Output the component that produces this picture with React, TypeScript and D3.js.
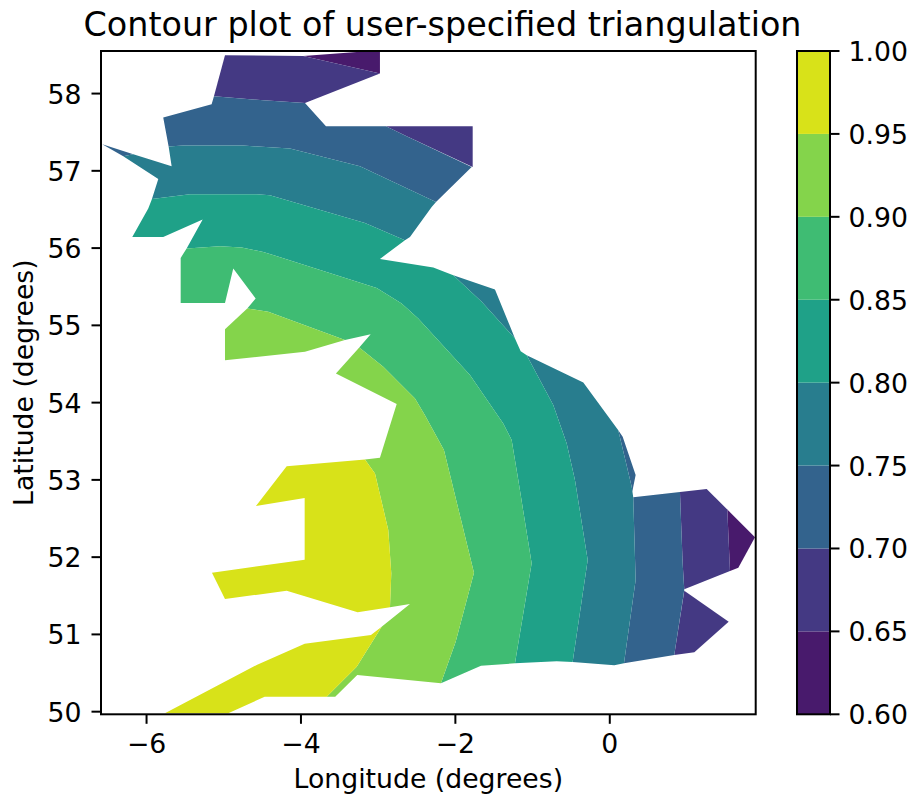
import React from "react";
import * as d3 from "d3";

type Pt = [number, number];

const levels = [0.6, 0.65, 0.7, 0.75, 0.8, 0.85, 0.9, 0.95, 1.0];
const bandColors = ["#481a6c", "#443983", "#33638d", "#287d8e", "#1fa188", "#3fbc73", "#84d44b", "#d8e219"];
const lonTicks = [-6, -4, -2, 0];
const latTicks = [50, 51, 52, 53, 54, 55, 56, 57, 58];
const lonDomain: Pt = [-6.59, 1.89];
const latDomain: Pt = [49.966, 58.551];

// [band index, outline as lon/lat]
const bandNorthTip: Pt[] = [[-3.970, 58.486], [-3.236, 58.541], [-2.977, 58.541], [-2.977, 58.259]];
const bandEastTip: Pt[] = [[1.522, 52.618], [1.881, 52.256], [1.665, 51.863], [1.557, 51.820]];

const band65North: Pt[] = [[-4.984, 58.495], [-3.970, 58.486], [-2.977, 58.259], [-3.948, 57.878], [-4.488, 57.913], [-5.127, 57.965]];
const band65NorthEast: Pt[] = [[-2.899, 57.577], [-1.776, 57.577], [-1.776, 57.050], [-2.631, 57.448]];
const band65East: Pt[] = [[0.909, 52.842], [1.255, 52.881], [1.522, 52.618], [1.557, 51.820], [0.965, 51.583], [0.944, 51.920]];
const band65SouthEast: Pt[] = [[0.965, 51.565], [1.540, 51.164], [1.095, 50.768], [0.835, 50.733]];

const band70North: Pt[] = [[-5.784, 57.690], [-5.157, 57.862], [-5.127, 57.965], [-4.488, 57.913], [-3.948, 57.878], [-3.676, 57.577], [-2.899, 57.577], [-2.631, 57.448], [-1.789, 57.050], [-2.251, 56.598], [-3.236, 57.060], [-4.142, 57.288], [-4.747, 57.327], [-5.525, 57.327], [-5.714, 57.314]];
const band70Tip: Pt[] = [[-6.574, 57.344], [-6.172, 57.215], [-6.302, 57.189]];
const band70East: Pt[] = [[0.110, 53.644], [0.167, 53.558], [0.335, 53.062], [0.291, 52.846], [0.284, 52.911]];
const band70SouthEast: Pt[] = [[0.304, 52.774], [0.909, 52.842], [0.944, 51.920], [0.965, 51.574], [0.835, 50.733], [0.184, 50.626], [0.335, 51.704]];

const band75North: Pt[] = [[-5.714, 57.314], [-5.525, 57.327], [-4.747, 57.327], [-4.142, 57.288], [-3.236, 57.060], [-2.251, 56.598], [-2.307, 56.533], [-2.588, 56.145], [-2.653, 56.102], [-3.171, 56.326], [-4.402, 56.684], [-4.574, 56.697], [-5.438, 56.697], [-5.930, 56.636], [-5.848, 56.895], [-6.302, 57.189], [-6.172, 57.215], [-5.675, 57.060]];
const band75NorthEast: Pt[] = [[-2.027, 55.649], [-1.487, 55.464], [-1.228, 54.831], [-1.659, 55.304]];
const band75East: Pt[] = [[-1.076, 54.614], [-0.343, 54.261], [0.110, 53.644], [0.284, 52.911], [0.304, 52.774], [0.335, 51.704], [0.184, 50.626], [0.058, 50.600], [-0.481, 50.643], [-0.286, 51.962], [-0.451, 52.997], [-0.558, 53.472], [-0.732, 53.968]];

const band80Main: Pt[] = [[-5.930, 56.636], [-5.438, 56.697], [-4.574, 56.697], [-4.402, 56.684], [-3.171, 56.326], [-2.653, 56.102], [-2.977, 55.860], [-2.286, 55.749], [-2.027, 55.649], [-1.659, 55.304], [-1.228, 54.831], [-1.154, 54.666], [-1.076, 54.614], [-0.732, 53.968], [-0.558, 53.472], [-0.451, 52.997], [-0.286, 51.962], [-0.481, 50.643], [-0.688, 50.652], [-1.228, 50.626], [-1.012, 51.920], [-1.185, 52.997], [-1.271, 53.515], [-1.380, 53.731], [-1.811, 54.356], [-2.481, 55.089], [-2.696, 55.283], [-3.019, 55.485], [-4.488, 55.951], [-4.768, 56.008], [-5.049, 56.025], [-5.481, 55.995], [-5.273, 56.370], [-5.784, 56.145], [-6.185, 56.145], [-5.978, 56.512]];

const band85Main: Pt[] = [[-5.481, 55.995], [-5.049, 56.025], [-4.768, 56.008], [-4.488, 55.951], [-3.019, 55.485], [-2.696, 55.283], [-2.481, 55.089], [-1.811, 54.356], [-1.380, 53.731], [-1.271, 53.515], [-1.185, 52.997], [-1.012, 51.920], [-1.228, 50.626], [-1.668, 50.595], [-2.187, 50.367], [-1.996, 50.906], [-1.759, 51.798], [-2.148, 53.386], [-2.394, 53.838], [-2.523, 54.054], [-2.934, 54.463], [-3.245, 54.714], [-3.097, 54.886], [-3.430, 54.809], [-4.424, 55.175], [-4.696, 55.219], [-4.587, 55.348], [-4.877, 55.736], [-4.984, 55.291], [-5.558, 55.291], [-5.558, 55.873]];

const band90North: Pt[] = [[-4.696, 55.219], [-4.424, 55.175], [-3.430, 54.809], [-3.948, 54.657], [-4.984, 54.550], [-4.984, 54.951]];
const band90Main: Pt[] = [[-3.245, 54.714], [-2.934, 54.463], [-2.523, 54.054], [-2.394, 53.838], [-2.148, 53.386], [-1.759, 51.798], [-1.996, 50.906], [-2.187, 50.367], [-3.271, 50.475], [-3.556, 50.194], [-3.667, 50.194], [-3.278, 50.582], [-2.955, 51.100], [-2.588, 51.393], [-2.847, 51.351], [-2.830, 51.790], [-2.869, 52.351], [-3.041, 53.084], [-3.171, 53.265], [-2.977, 53.286], [-2.760, 53.981], [-3.547, 54.378]];

const band95Upper: Pt[] = [[-3.171, 53.265], [-3.041, 53.084], [-2.869, 52.351], [-2.830, 51.790], [-2.847, 51.351], [-3.266, 51.286], [-4.185, 51.565], [-4.984, 51.458], [-5.153, 51.798], [-3.952, 51.966], [-3.952, 52.765], [-4.583, 52.661], [-4.185, 53.175]];
const band95Lower: Pt[] = [[-3.093, 50.992], [-2.955, 51.100], [-3.278, 50.582], [-3.667, 50.194], [-4.470, 50.194], [-4.942, 49.979], [-5.762, 49.979], [-4.574, 50.604], [-3.952, 50.880]];

const bandPolygons: [number, Pt[]][] = [
  [0, bandNorthTip], [0, bandEastTip],
  [1, band65North], [1, band65NorthEast], [1, band65East], [1, band65SouthEast],
  [2, band70North], [2, band70Tip], [2, band70East], [2, band70SouthEast],
  [3, band75North], [3, band75NorthEast], [3, band75East],
  [4, band80Main],
  [5, band85Main],
  [6, band90North], [6, band90Main],
  [7, band95Upper], [7, band95Lower],
];

const FONT = "'DejaVu Sans', sans-serif";
const axL = 101, axR = 755.7, axT = 51, axB = 714.3;
const cbL = 797, cbR = 830;

export default function App() {
  const x = d3.scaleLinear().domain(lonDomain).range([axL, axR]);
  const y = d3.scaleLinear().domain(latDomain).range([axB, axT]);
  const cy = d3.scaleLinear().domain([0.6, 1.0]).range([axB, axT]);
  const line = d3.line<Pt>().x((d) => x(d[0])).y((d) => y(d[1])).curve(d3.curveLinearClosed);
  const TICK = 26.7;
  return (
    <svg width={910} height={795} style={{ position: "absolute", left: 0, top: 0, background: "#fff" }} fontFamily={FONT}>
      <defs>
        <clipPath id="ax"><rect x={axL} y={axT} width={axR - axL} height={axB - axT} /></clipPath>
      </defs>
      <g clipPath="url(#ax)">
        {bandPolygons.map(([b, pts], i) => (
          <path key={i} d={line(pts) ?? ""} fill={bandColors[b]} />
        ))}
      </g>
      <rect x={axL} y={axT} width={axR - axL} height={axB - axT} fill="none" stroke="#000" strokeWidth={2} />
      {lonTicks.map((t) => (
        <g key={t}>
          <line x1={x(t)} x2={x(t)} y1={axB} y2={axB + 9.5} stroke="#000" strokeWidth={2} />
          <text x={x(t)} y={axB + 38.4} textAnchor="middle" fontSize={TICK}>{t < 0 ? "\u2212" + Math.abs(t) : t}</text>
        </g>
      ))}
      {latTicks.map((t) => (
        <g key={t}>
          <line x1={axL - 9.5} x2={axL} y1={y(t)} y2={y(t)} stroke="#000" strokeWidth={2} />
          <text x={axL - 19.5} y={y(t) + 10} textAnchor="end" fontSize={TICK}>{t}</text>
        </g>
      ))}
      <text x={442.5} y={36} textAnchor="middle" fontSize={33.4}>Contour plot of user-specified triangulation</text>
      <text x={(axL + axR) / 2} y={788} textAnchor="middle" fontSize={TICK}>Longitude (degrees)</text>
      <text transform={`translate(33,${(axT + axB) / 2}) rotate(-90)`} textAnchor="middle" fontSize={TICK}>Latitude (degrees)</text>
      {bandColors.map((c, i) => (
        <rect key={c} x={cbL} width={cbR - cbL} y={cy(levels[i + 1])} height={cy(levels[i]) - cy(levels[i + 1])} fill={c} />
      ))}
      <rect x={cbL} y={axT} width={cbR - cbL} height={axB - axT} fill="none" stroke="#000" strokeWidth={2} />
      {levels.map((l) => (
        <g key={l}>
          <line x1={cbR} x2={cbR + 9.5} y1={cy(l)} y2={cy(l)} stroke="#000" strokeWidth={2} />
          <text x={cbR + 18.5} y={cy(l) + 10} fontSize={TICK}>{l.toFixed(2)}</text>
        </g>
      ))}
    </svg>
  );
}
